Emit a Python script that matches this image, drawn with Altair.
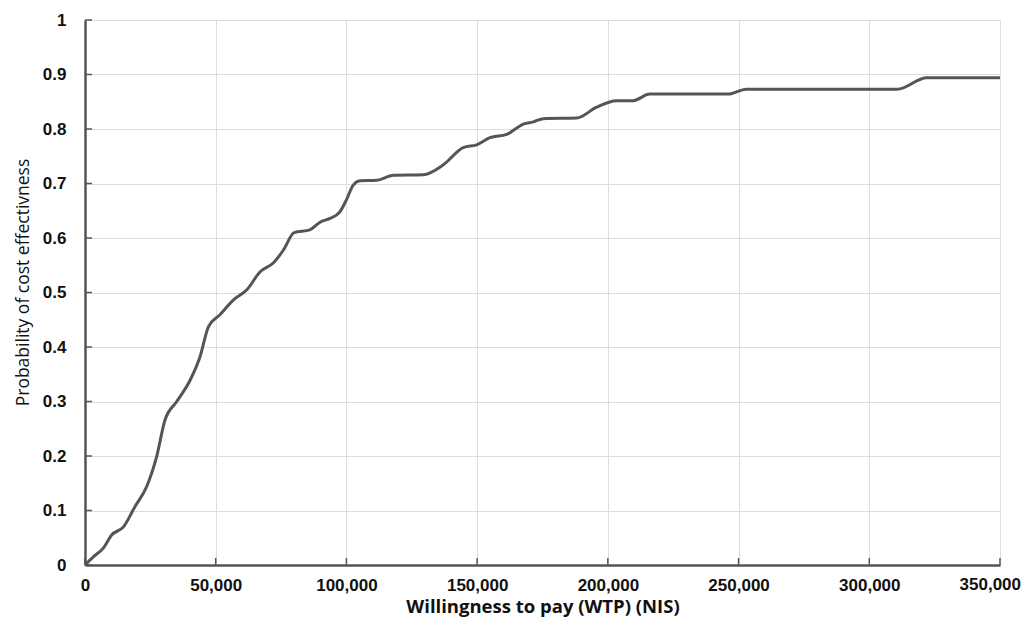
import altair as alt
import pandas as pd

# Willingness to pay (NIS) and probability of cost effectiveness
wtp = [0, 3200, 7000, 10200, 14700, 19100, 23600, 27400, 30600, 35100, 40200,
       44000, 47200, 51600, 56700, 61900, 67000, 72000, 75900, 80000, 86000,
       89900, 93700, 97500, 100000, 102600, 105200, 111500, 118000, 129400,
       137000, 144700, 149800, 154900, 161300, 167700, 171500, 175300, 188000,
       195700, 203300, 209700, 216000, 246000, 253000, 310700, 322000, 350000]
prob = [0, 0.015, 0.031, 0.055, 0.07, 0.107, 0.144, 0.199, 0.266, 0.30, 0.339,
        0.382, 0.437, 0.459, 0.486, 0.505, 0.538, 0.554, 0.578, 0.61, 0.615,
        0.629, 0.636, 0.648, 0.67, 0.697, 0.705, 0.706, 0.715, 0.716,
        0.734, 0.766, 0.771, 0.784, 0.79, 0.809, 0.813, 0.819, 0.82,
        0.84, 0.852, 0.852, 0.864, 0.864, 0.873, 0.873, 0.894, 0.894]

x_ticks = [0, 50000, 100000, 150000, 200000, 250000, 300000, 350000]
y_ticks = [0, 0.1, 0.2, 0.3, 0.4, 0.5, 0.6, 0.7, 0.8, 0.9, 1.0]
last_x_label = ["350,000"]

df = pd.DataFrame({"wtp": wtp, "prob": prob})
xt = pd.DataFrame({"v": x_ticks})
yt = pd.DataFrame({"v": y_ticks})
lastdf = pd.DataFrame({"v": [x_ticks[-1]], "t": last_x_label})

W, H = 915, 545
LABEL_FONT = "Liberation Sans"
LABEL_SIZE = 17
X_LABEL_PAD = 12

xscale = alt.Scale(domain=[0, 350000], nice=False, zero=True)
yscale = alt.Scale(domain=[0, 1], nice=False)

line = alt.Chart(df).mark_line(
    color="#555555", strokeWidth=3, interpolate="monotone"
).encode(
    x=alt.X("wtp:Q", scale=xscale,
            axis=alt.Axis(values=x_ticks,
                          labelExpr="datum.value == 350000 ? '' : format(datum.value, ',d')",
                          title="Willingness to pay (WTP) (NIS)",
                          labelFlush=False, labelOverlap=False, labelPadding=X_LABEL_PAD,
                          titleFontWeight="bold", titleFontSize=18.5, titlePadding=4)),
    y=alt.Y("prob:Q", scale=yscale,
            axis=alt.Axis(values=y_ticks,
                          labelExpr="datum.value == 0 ? '0' : (datum.value == 1 ? '1' : format(datum.value, '.1f'))",
                          title="Probability of cost effectivness",
                          labelFlush=False, labelOverlap=False, labelPadding=19,
                          titleFontWeight="normal", titleFontSize=17.5, titlePadding=10,
                          titleY=262)),
)

ytick_marks = alt.Chart(yt).mark_rule(color="#555555", strokeWidth=1.5).encode(
    y=alt.Y("v:Q", scale=yscale), x=alt.value(0), x2=alt.value(7)
)
xtick_marks = alt.Chart(xt).mark_rule(color="#555555", strokeWidth=1.5).encode(
    x=alt.X("v:Q", scale=xscale), y=alt.value(H), y2=alt.value(H - 7)
)
last_label = alt.Chart(lastdf).mark_text(
    align="right", baseline="top", dx=21, font=LABEL_FONT, fontSize=LABEL_SIZE,
    fontWeight="bold", color="#111111"
).encode(x=alt.X("v:Q", scale=xscale), y=alt.value(H + X_LABEL_PAD), text="t:N")

chart = alt.layer(ytick_marks, xtick_marks, line, last_label).properties(
    width=W, height=H,
    autosize=alt.AutoSizeParams(type="none"),
    padding={"left": 77, "top": 12, "right": 22, "bottom": 55},
).configure_view(stroke=None).configure_axis(
    domainColor="#555555", domainWidth=2.5, ticks=False, tickSize=0,
    gridColor="#dddddd", gridWidth=1,
    labelFont=LABEL_FONT, labelFontWeight="bold", labelFontSize=LABEL_SIZE, labelColor="#111111",
    titleFont="Open Sans", titleColor="#111111",
)

chart.save("out.html", embed_options={"renderer": "svg", "actions": False})
